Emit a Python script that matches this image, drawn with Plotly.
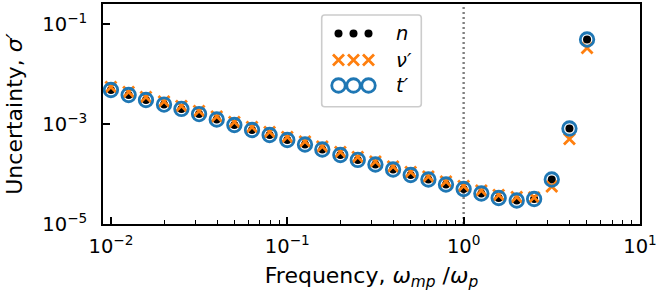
import plotly.graph_objects as go

# ---- data ----
freq = [0.01, 0.0126, 0.0158, 0.02, 0.0251, 0.0316, 0.0398, 0.0501, 0.0631, 0.0794,
        0.1, 0.126, 0.158, 0.2, 0.251, 0.316, 0.398, 0.501, 0.631, 0.794,
        1.0, 1.26, 1.58, 2.0, 2.51, 3.16, 3.98, 5.01]

sigma_n = [4.79e-3, 3.80e-3, 3.02e-3, 2.45e-3, 2.00e-3, 1.58e-3, 1.23e-3, 9.55e-4, 7.59e-4, 6.03e-4,
           4.79e-4, 3.89e-4, 3.09e-4, 2.40e-4, 1.91e-4, 1.55e-4, 1.23e-4, 9.55e-5, 7.76e-5, 6.17e-5,
           5.01e-5, 4.07e-5, 3.31e-5, 2.95e-5, 3.16e-5, 7.76e-5, 8.13e-4, 4.90e-2]

sigma_nu = [5.50e-3, 4.37e-3, 3.47e-3, 2.82e-3, 2.29e-3, 1.82e-3, 1.41e-3, 1.10e-3, 8.71e-4, 6.92e-4,
            5.50e-4, 4.47e-4, 3.55e-4, 2.76e-4, 2.19e-4, 1.78e-4, 1.41e-4, 1.10e-4, 8.91e-5, 7.08e-5,
            5.75e-5, 4.68e-5, 3.80e-5, 3.47e-5, 3.39e-5, 5.62e-5, 5.01e-4, 3.31e-2]

sigma_t = [4.79e-3, 3.80e-3, 3.02e-3, 2.45e-3, 2.00e-3, 1.58e-3, 1.23e-3, 9.55e-4, 7.59e-4, 6.03e-4,
           4.79e-4, 3.89e-4, 3.09e-4, 2.40e-4, 1.91e-4, 1.55e-4, 1.23e-4, 9.55e-5, 7.76e-5, 6.17e-5,
           5.01e-5, 4.07e-5, 3.31e-5, 2.95e-5, 3.16e-5, 7.76e-5, 8.13e-4, 4.90e-2]

series_names = ["<i>n</i>", "<i>ν′</i>", "<i>t′</i>"]

x_tickvals = [0.01, 0.1, 1, 10]
x_ticktext = ["10<sup>−2</sup>", "10<sup>−1</sup>", "10<sup>0</sup>", "10<sup>1</sup>"]
y_tickvals = [1e-5, 1e-3, 1e-1]
y_ticktext = ["10<sup>−5</sup>", "10<sup>−3</sup>", "10<sup>−1</sup>"]
plasma_freq = 1.0

# ---- style ----
BLUE = "#1f77b4"
ORANGE = "#ff7f0e"
FONT = "DejaVu Sans"
FS = 19.5
FS_TITLE = 22

W, H = 666, 300
L, R, T, B = 103, 26, 4, 76

minor_x = [m * 10.0 ** e for e in range(-3, 1) for m in range(2, 10)]

fig = go.Figure()

marker_n = dict(symbol="circle", size=8, color="black", line=dict(width=0))
marker_nu = dict(symbol="x-thin", size=11, color=ORANGE, line=dict(width=2.8, color=ORANGE))
marker_t = dict(symbol="circle-open", size=13.5, color=BLUE, line=dict(width=2.8, color=BLUE))

fig.add_trace(go.Scatter(x=freq, y=sigma_n, mode="markers", marker=marker_n, showlegend=False))
fig.add_trace(go.Scatter(x=freq, y=sigma_nu, mode="markers", marker=marker_nu, showlegend=False))
fig.add_trace(go.Scatter(x=freq, y=sigma_t, mode="markers", marker=marker_t, showlegend=False))

# vertical dotted line at omega_p
fig.add_shape(type="line", x0=plasma_freq, x1=plasma_freq, xref="x", y0=0, y1=1, yref="paper",
              line=dict(color="#7f7f7f", width=2.4, dash="2px,3px"), layer="below")

# ---- custom legend on a pixel-coordinate overlay axis ----
lx = [338.5, 353.5, 368.5]
rows = [33.5, 60, 85.5]
markers = [marker_n, marker_nu, marker_t]
r = 3
x0b, x1b, y0b, y1b = 321.7, 421.3, 15, 106.7
path = (f"M {x0b + r},{y0b} L {x1b - r},{y0b} Q {x1b},{y0b} {x1b},{y0b + r} "
        f"L {x1b},{y1b - r} Q {x1b},{y1b} {x1b - r},{y1b} L {x0b + r},{y1b} "
        f"Q {x0b},{y1b} {x0b},{y1b - r} L {x0b},{y0b + r} Q {x0b},{y0b} {x0b + r},{y0b} Z")
fig.add_shape(type="path", path=path, xref="x2", yref="y2",
              line=dict(color="#cccccc", width=1.6), fillcolor="rgba(255,255,255,0.8)", layer="below")
for yy, mk, name in zip(rows, markers, series_names):
    fig.add_trace(go.Scatter(x=lx, y=[yy] * 3, mode="markers", marker=mk, showlegend=False,
                             xaxis="x2", yaxis="y2", hoverinfo="skip"))
    fig.add_annotation(x=394, y=yy, xref="x2", yref="y2", text=name, showarrow=False,
                       xanchor="left", yanchor="middle", font=dict(family=FONT, size=FS, color="black"))

axis_common = dict(showline=True, linecolor="black", linewidth=1.6, mirror=True,
                   ticks="inside", tickcolor="black", tickwidth=1.6, ticklen=7,
                   showgrid=False, zeroline=False, automargin=False,
                   tickfont=dict(family=FONT, size=FS, color="black"))

fig.update_layout(
    width=W, height=H,
    margin=dict(l=L, r=R, t=T, b=B, autoexpand=False),
    plot_bgcolor="white", paper_bgcolor="white",
    font=dict(family=FONT, size=FS, color="black"),
    showlegend=False,
    xaxis=dict(type="log", range=[-2.045, 1.0], tickmode="array", tickvals=x_tickvals,
               ticktext=x_ticktext, ticklabelstandoff=4,
               minor=dict(tickmode="array", tickvals=minor_x, ticks="inside", ticklen=4,
                          tickwidth=1.2, tickcolor="black", showgrid=False),
               title=dict(text="Frequency, <i>ω</i><sub><i>mp</i></sub> /<i>ω</i><sub><i>p</i></sub>",
                          font=dict(family=FONT, size=FS_TITLE), standoff=10),
               **axis_common),
    yaxis=dict(type="log", range=[-5.0, -0.6], tickmode="array", tickvals=y_tickvals,
               ticktext=y_ticktext, ticklabelstandoff=10,
               title=dict(text="Uncertainty, <i>σ′</i>", font=dict(family=FONT, size=FS_TITLE), standoff=14),
               **axis_common),
    xaxis2=dict(overlaying="x", range=[L, W - R], visible=False, fixedrange=True),
    yaxis2=dict(overlaying="y", range=[H - B, T], visible=False, fixedrange=True),
)

fig.write_html("out.html", config={"displayModeBar": False},
               post_script="document.body.style.margin='0px';")
